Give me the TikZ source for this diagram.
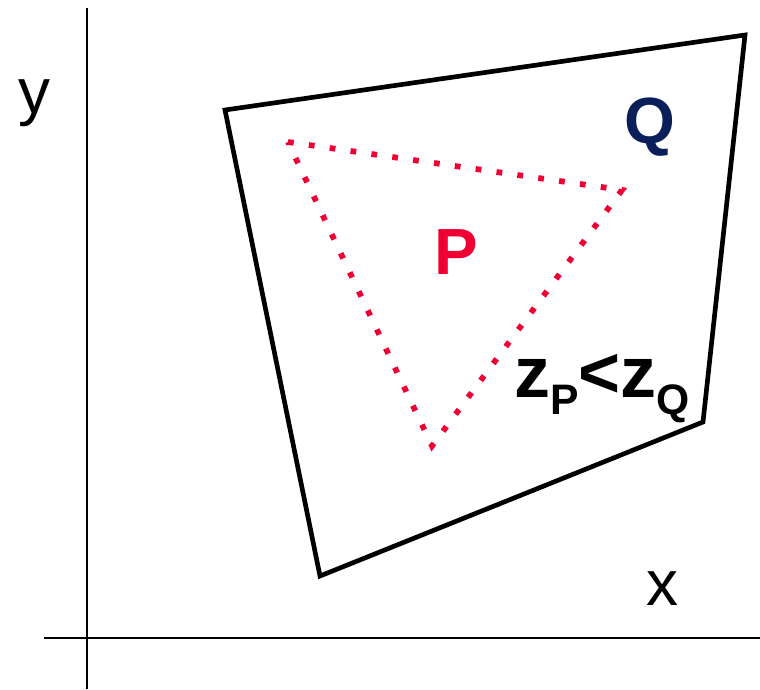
\documentclass[tikz,border=0pt]{standalone}
\usepackage{fontspec}
\setmainfont{Liberation Sans}
\definecolor{pred}{RGB}{240,0,50}
\definecolor{qblue}{RGB}{10,30,90}
\newcommand{\lowsub}[1]{\raisebox{-13pt}{\fontsize{32}{32}\selectfont #1}}
\begin{document}
\begin{tikzpicture}[x=0.75pt,y=-0.75pt,
  axis/.style={line width=1.5pt},
  poly/.style={line width=3.5pt,line join=miter},
  tri/.style={pred,line width=4.3pt,dash pattern=on 4.3pt off 11.5pt},
  lbl/.style={inner sep=0pt,font=\fontsize{48}{48}\selectfont}]
\useasboundingbox (0,0) rectangle (760,689);
% axes
\coordinate (ytop) at (87,8); \coordinate (ybot) at (87,689);
\coordinate (xl) at (44,638); \coordinate (xr) at (760,638);
\draw[axis] (ytop)--(ybot); \draw[axis] (xl)--(xr);
\node[lbl] (ylab) at (34,103) {y};
\node[lbl] (xlab) at (662,589) {x};
% polygon Q
\coordinate (q1) at (225,110); \coordinate (q2) at (745,35);
\coordinate (q3) at (703,422); \coordinate (q4) at (320,576);
\draw[poly] (q1)--(q2)--(q3)--(q4)--cycle;
% triangle P
\coordinate (p1) at (288,142); \coordinate (p2) at (622,190);
\coordinate (p3) at (432,446);
\draw[tri] (p1)--(p2)--(p3)--cycle;
\node[lbl,font=\fontsize{49}{49}\selectfont\bfseries,text=pred] (plab) at (456,252) {P};
\node[lbl,font=\fontsize{49}{49}\selectfont\bfseries,text=qblue] (qlab) at (650,127) {Q};
\node[lbl,font=\fontsize{54}{54}\selectfont\bfseries,anchor=base] (zlab) at (602,397) {z\lowsub{P}<z\lowsub{Q}};
\end{tikzpicture}
\end{document}
